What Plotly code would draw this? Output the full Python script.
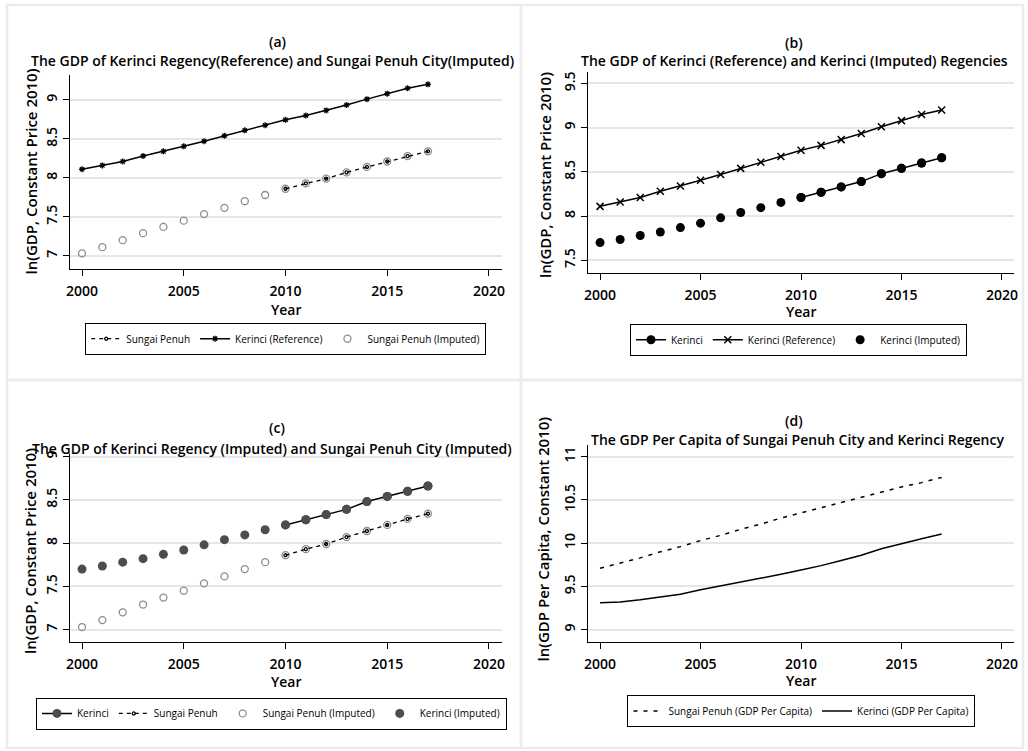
import plotly.graph_objects as go

years = list(range(2000, 2018))
obs_years = list(range(2010, 2018))

kerinci_ref = [8.11, 8.16, 8.21, 8.28, 8.34, 8.405, 8.47, 8.54, 8.61, 8.675,
               8.745, 8.80, 8.865, 8.935, 9.01, 9.08, 9.15, 9.20]
sungai_imp = [7.03, 7.11, 7.20, 7.29, 7.37, 7.45, 7.535, 7.615, 7.70, 7.78,
              7.86, 7.93, 7.99, 8.07, 8.14, 8.21, 8.28, 8.34]
kerinci_imp = [7.70, 7.735, 7.78, 7.82, 7.87, 7.92, 7.98, 8.04, 8.095, 8.155,
               8.21, 8.27, 8.33, 8.39, 8.48, 8.54, 8.60, 8.66]
sungai_obs = [7.86, 7.93, 7.99, 8.07, 8.14, 8.21, 8.28, 8.34]
kerinci_obs = [8.21, 8.27, 8.33, 8.39, 8.48, 8.54, 8.60, 8.66]
pc_sungai = [9.71, 9.77, 9.83, 9.90, 9.96, 10.03, 10.09, 10.16, 10.22, 10.29,
             10.35, 10.41, 10.47, 10.53, 10.59, 10.65, 10.70, 10.76]
pc_kerinci = [9.31, 9.32, 9.345, 9.375, 9.41, 9.46, 9.505, 9.55, 9.59, 9.64,
              9.69, 9.74, 9.80, 9.86, 9.935, 9.995, 10.05, 10.105]

x_ticks = [2000, 2005, 2010, 2015, 2020]
y_ticks_a = [7, 7.5, 8, 8.5, 9]
y_ticks_b = [7.5, 8, 8.5, 9, 9.5]
y_ticks_c = [7, 7.5, 8, 8.5, 9]
y_ticks_d = [9, 9.5, 10, 10.5, 11]

panel_labels = ["(a)", "(b)", "(c)", "(d)"]
panel_titles = [
    "The GDP of Kerinci Regency(Reference) and Sungai Penuh City(Imputed)",
    "The GDP of Kerinci (Reference) and Kerinci (Imputed) Regencies",
    "The GDP of Kerinci Regency (Imputed) and Sungai Penuh City (Imputed)",
    "The GDP Per Capita of Sungai Penuh City and Kerinci Regency",
]
y_titles = ["ln(GDP, Constant Price 2010)", "ln(GDP, Constant Price 2010)",
            "ln(GDP, Constant Price 2010)", "ln(GDP Per Capita, Constant 2010)"]

W, H = 1028, 751
FONT = "Open Sans"
GRAY = "#8c8c8c"
DARK = "#4d4d4d"

fig = go.Figure()

# ---- Panel (a)
fig.add_trace(go.Scatter(x=years, y=sungai_imp, mode="markers", name="Sungai Penuh (Imputed)",
                         marker=dict(symbol="circle-open", size=7, color=GRAY, line=dict(width=1.3)),
                         xaxis="x", yaxis="y", legend="legend", legendrank=3))
fig.add_trace(go.Scatter(x=obs_years, y=sungai_obs, mode="lines+markers", name="Sungai Penuh",
                         line=dict(color="black", width=1.3, dash="4px,4px"),
                         marker=dict(symbol="circle-open", size=3, color="black", line=dict(width=1.3)),
                         xaxis="x", yaxis="y", legend="legend", legendrank=1))
fig.add_trace(go.Scatter(x=years, y=kerinci_ref, mode="lines+markers", name="Kerinci (Reference)",
                         line=dict(color="black", width=1.5),
                         marker=dict(symbol="asterisk-open", size=5, color="black", line=dict(width=1.3)),
                         xaxis="x", yaxis="y", legend="legend", legendrank=2))

# ---- Panel (b)
fig.add_trace(go.Scatter(x=years, y=kerinci_imp, mode="markers", name="Kerinci (Imputed)",
                         marker=dict(symbol="circle", size=9, color="black"),
                         xaxis="x2", yaxis="y2", legend="legend2", legendrank=3))
fig.add_trace(go.Scatter(x=obs_years, y=kerinci_obs, mode="lines+markers", name="Kerinci",
                         line=dict(color="black", width=1.5),
                         marker=dict(symbol="circle", size=9, color="black"),
                         xaxis="x2", yaxis="y2", legend="legend2", legendrank=1))
fig.add_trace(go.Scatter(x=years, y=kerinci_ref, mode="lines+markers", name="Kerinci (Reference)",
                         line=dict(color="black", width=1.5),
                         marker=dict(symbol="x-thin-open", size=7, color="black", line=dict(width=1.5)),
                         xaxis="x2", yaxis="y2", legend="legend2", legendrank=2))

# ---- Panel (c)
fig.add_trace(go.Scatter(x=years, y=kerinci_imp, mode="markers", name="Kerinci (Imputed)",
                         marker=dict(symbol="circle", size=9, color=DARK),
                         xaxis="x3", yaxis="y3", legend="legend3", legendrank=4))
fig.add_trace(go.Scatter(x=obs_years, y=kerinci_obs, mode="lines+markers", name="Kerinci",
                         line=dict(color="black", width=1.5),
                         marker=dict(symbol="circle", size=9, color=DARK),
                         xaxis="x3", yaxis="y3", legend="legend3", legendrank=1))
fig.add_trace(go.Scatter(x=years, y=sungai_imp, mode="markers", name="Sungai Penuh (Imputed)",
                         marker=dict(symbol="circle-open", size=7, color=GRAY, line=dict(width=1.3)),
                         xaxis="x3", yaxis="y3", legend="legend3", legendrank=3))
fig.add_trace(go.Scatter(x=obs_years, y=sungai_obs, mode="lines+markers", name="Sungai Penuh",
                         line=dict(color="black", width=1.3, dash="4px,4px"),
                         marker=dict(symbol="circle-open", size=3, color="black", line=dict(width=1.3)),
                         xaxis="x3", yaxis="y3", legend="legend3", legendrank=2))

# ---- Panel (d)
fig.add_trace(go.Scatter(x=years, y=pc_sungai, mode="lines", name="Sungai Penuh (GDP Per Capita)",
                         line=dict(color="black", width=1.5, dash="4px,6px"),
                         xaxis="x4", yaxis="y4", legend="legend4", legendrank=1))
fig.add_trace(go.Scatter(x=years, y=pc_kerinci, mode="lines", name="Kerinci (GDP Per Capita)",
                         line=dict(color="black", width=1.5),
                         xaxis="x4", yaxis="y4", legend="legend4", legendrank=2))

# pixel geometry of plot areas: (left, right, top, bottom)
boxes = [(70, 502, 75, 269), (588, 1014, 72, 273), (70, 502, 454, 642), (588, 1014, 445, 642)]
xranges = [(1999.41, 2020.64), (1999.40, 2020.6), (1999.41, 2020.64), (1999.40, 2020.6)]
yranges = [(6.83, 9.32), (7.356, 9.63), (6.857, 9.03), (8.857, 11.135)]
yticks = [y_ticks_a, y_ticks_b, y_ticks_c, y_ticks_d]

tickfont = dict(family=FONT, size=14, color="black", weight=600)
layout = {}
for i in range(4):
    l, r, t, b = boxes[i]
    sfx = "" if i == 0 else str(i + 1)
    layout["xaxis" + sfx] = dict(
        domain=[l / W, r / W], range=list(xranges[i]), anchor="y" + sfx, automargin=False,
        tickvals=x_ticks, ticktext=[str(v) for v in x_ticks], ticks="outside", ticklen=6,
        tickwidth=1.2, tickcolor="black", showline=True, linecolor="black", linewidth=1.2,
        showgrid=False, zeroline=False, tickfont=tickfont, ticklabeloverflow="allow",
        ticklabelstandoff=3)
    layout["yaxis" + sfx] = dict(
        domain=[1 - b / H, 1 - t / H], range=list(yranges[i]), anchor="x" + sfx, automargin=False,
        tickvals=yticks[i], ticktext=[("%g" % v) for v in yticks[i]], tickangle=-90,
        ticks="outside", ticklen=6, tickwidth=1.2, tickcolor="black", showline=True,
        linecolor="black", linewidth=1.2, showgrid=True, gridcolor="#e6e6e6", gridwidth=1.5,
        zeroline=False, tickfont=tickfont)

legend_pos = [(285.5, 339), (798.3, 340), (271.3, 713.7), (801.3, 711.3)]
legend_names = ["legend", "legend2", "legend3", "legend4"]
for i, nm in enumerate(legend_names):
    cx, cy = legend_pos[i]
    layout[nm] = dict(x=cx / W, y=1 - cy / H, xanchor="center", yanchor="middle",
                      orientation="h", bordercolor="black", borderwidth=1.2, bgcolor="white",
                      font=dict(family=FONT, size=10, color="black"),
                      traceorder="normal", itemwidth=30)

annotations = []
label_pos = [(277, 42), (794.3, 42.5), (277, 428), (794, 420)]
title_pos = [(272.5, 61), (794.5, 61), (272, 448), (797, 440)]
ytitle_pos = [(30, 171.5), (545, 175), (30, 551), (542, 539.5)]
xtitle_pos = [(286, 309), (801, 311), (286, 681), (801, 680)]
for i in range(4):
    annotations.append(dict(x=label_pos[i][0] / W, y=1 - label_pos[i][1] / H, xref="paper", yref="paper",
                            text=panel_labels[i], showarrow=False, xanchor="center", yanchor="middle",
                            font=dict(family=FONT, size=14, color="black", weight=600)))
    annotations.append(dict(x=title_pos[i][0] / W, y=1 - title_pos[i][1] / H, xref="paper", yref="paper",
                            text=panel_titles[i], showarrow=False, xanchor="center", yanchor="middle",
                            font=dict(family=FONT, size=14, color="black", weight=600)))
    annotations.append(dict(x=ytitle_pos[i][0] / W, y=1 - ytitle_pos[i][1] / H, xref="paper", yref="paper",
                            text=y_titles[i], showarrow=False, xanchor="center", yanchor="middle",
                            textangle=-90, font=dict(family=FONT, size=15, color="black", weight=600)))
    annotations.append(dict(x=xtitle_pos[i][0] / W, y=1 - xtitle_pos[i][1] / H, xref="paper", yref="paper",
                            text="Year", showarrow=False, xanchor="center", yanchor="middle",
                            font=dict(family=FONT, size=14, color="black", weight=600)))

shapes = []
for (x0, y0, x1, y1) in [(7, 5, 521, 380), (521, 5, 1023, 380), (7, 380, 521, 748), (521, 380, 1023, 748)]:
    shapes.append(dict(type="rect", xref="paper", yref="paper", x0=x0 / W, x1=x1 / W,
                       y0=1 - y1 / H, y1=1 - y0 / H, line=dict(color="#ececec", width=2.5),
                       fillcolor="rgba(0,0,0,0)", layer="below"))

fig.update_layout(width=W, height=H, margin=dict(l=0, r=0, t=0, b=0),
                  paper_bgcolor="white", plot_bgcolor="white", showlegend=True,
                  annotations=annotations, shapes=shapes, **layout)

fig.write_html("out.html", config={"displayModeBar": False},
               post_script="document.body.style.margin='0';document.body.style.overflow='hidden';")
